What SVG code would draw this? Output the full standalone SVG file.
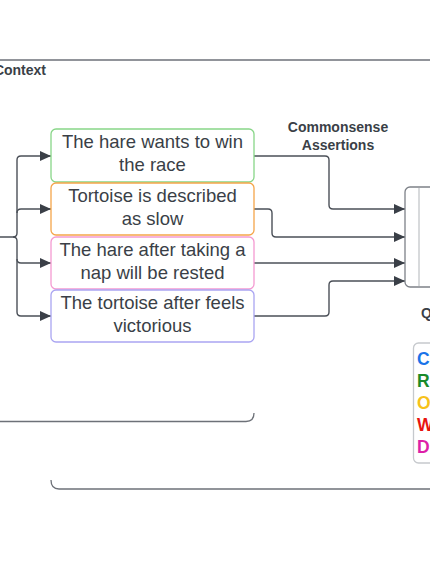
<svg xmlns="http://www.w3.org/2000/svg" width="430" height="574" viewBox="0 0 430 574">
<style>
.bg{fill:#ffffff}
.box{fill:#ffffff;stroke-width:1.3}
.t{font-family:"Liberation Sans",Arial,sans-serif;font-size:18.5px;fill:#3a3f47;text-anchor:middle}
.h{font-family:"Liberation Sans",Arial,sans-serif;font-size:14px;font-weight:bold;fill:#3a3f47}
.lg{font-family:"Liberation Sans",Arial,sans-serif;font-size:17.5px;font-weight:bold}
.c{fill:none;stroke:#4b5058;stroke-width:1.4}
.frame{fill:none;stroke:#6d7178;stroke-width:1.3}
</style>
<defs>
<marker id="ah" markerUnits="userSpaceOnUse" markerWidth="12" markerHeight="10" refX="11" refY="5" orient="auto">
<path d="M0,0 L11,5 L0,10 Z" fill="#3a3f47"/>
</marker>
</defs>
<rect class="bg" x="0" y="0" width="430" height="574"/>
<g id="frames">
<path class="frame" d="M0,60 H430"/>
<path class="frame" d="M0,421.5 H246 Q254,421.5 254,413"/>
<path class="frame" d="M51,480 Q51,489 59,489 H430"/>
</g>
<g id="labels">
<text class="h" x="46" y="75" text-anchor="end">Context</text>
<text class="h" x="338" y="132" text-anchor="middle">Commonsense</text>
<text class="h" x="338" y="150" text-anchor="middle">Assertions</text>
<text class="h" x="421" y="318">Q</text>
</g>
<g id="connectors">
<path class="c" d="M0,237 H13 Q17,237 17,233 V160 Q17,156 21,156 H51" marker-end="url(#ah)"/>
<path class="c" d="M13,237 Q17,237 17,241 V312 Q17,316 21,316 H51" marker-end="url(#ah)"/>
<path class="c" d="M17,213 Q17,209 21,209 H51" marker-end="url(#ah)"/>
<path class="c" d="M17,259 Q17,263 21,263 H51" marker-end="url(#ah)"/>
<path class="c" d="M254,156 H325 Q329,156 329,160 V205 Q329,209 333,209 H405" marker-end="url(#ah)"/>
<path class="c" d="M254,209 H268 Q272,209 272,213 V233 Q272,237 276,237 H405" marker-end="url(#ah)"/>
<path class="c" d="M254,263 H405" marker-end="url(#ah)"/>
<path class="c" d="M254,316 H325 Q329,316 329,312 V285 Q329,281 333,281 H405" marker-end="url(#ah)"/>
</g>
<g id="n1">
<rect class="box" x="51" y="129" width="203" height="53" rx="5" stroke="#88d688"/>
<text class="t" x="152.5" y="148">The hare wants to win</text>
<text class="t" x="152.5" y="171">the race</text>
</g>
<g id="n2">
<rect class="box" x="51" y="183" width="203" height="52" rx="5" stroke="#f5a54a"/>
<text class="t" x="152.5" y="202">Tortoise is described</text>
<text class="t" x="152.5" y="225">as slow</text>
</g>
<g id="n3">
<rect class="box" x="51" y="237" width="203" height="52" rx="5" stroke="#f49ad2"/>
<text class="t" x="152.5" y="256">The hare after taking a</text>
<text class="t" x="152.5" y="279">nap will be rested</text>
</g>
<g id="n4">
<rect class="box" x="51" y="290" width="203" height="52" rx="5" stroke="#aaa5f2"/>
<text class="t" x="152.5" y="309">The tortoise after feels</text>
<text class="t" x="152.5" y="332">victorious</text>
</g>
<g id="model">
<rect x="405" y="187" width="40" height="100" rx="5" fill="#ffffff" stroke="#7d8188" stroke-width="1.3"/>
<path d="M419,188 V286" stroke="#c3c6ca" stroke-width="1.3"/>
</g>
<g id="legend">
<rect x="413.5" y="343" width="40" height="120" rx="5" fill="#ffffff" stroke="#c6c9cd" stroke-width="1.3"/>
<text class="lg" x="417" y="365" fill="#1a73e8">C</text>
<text class="lg" x="417" y="387" fill="#1a8a2a">R</text>
<text class="lg" x="417" y="409" fill="#f7c21a">O</text>
<text class="lg" x="417" y="431" fill="#e8140f">W</text>
<text class="lg" x="417" y="453" fill="#dd1fa8">D</text>
</g>
</svg>
